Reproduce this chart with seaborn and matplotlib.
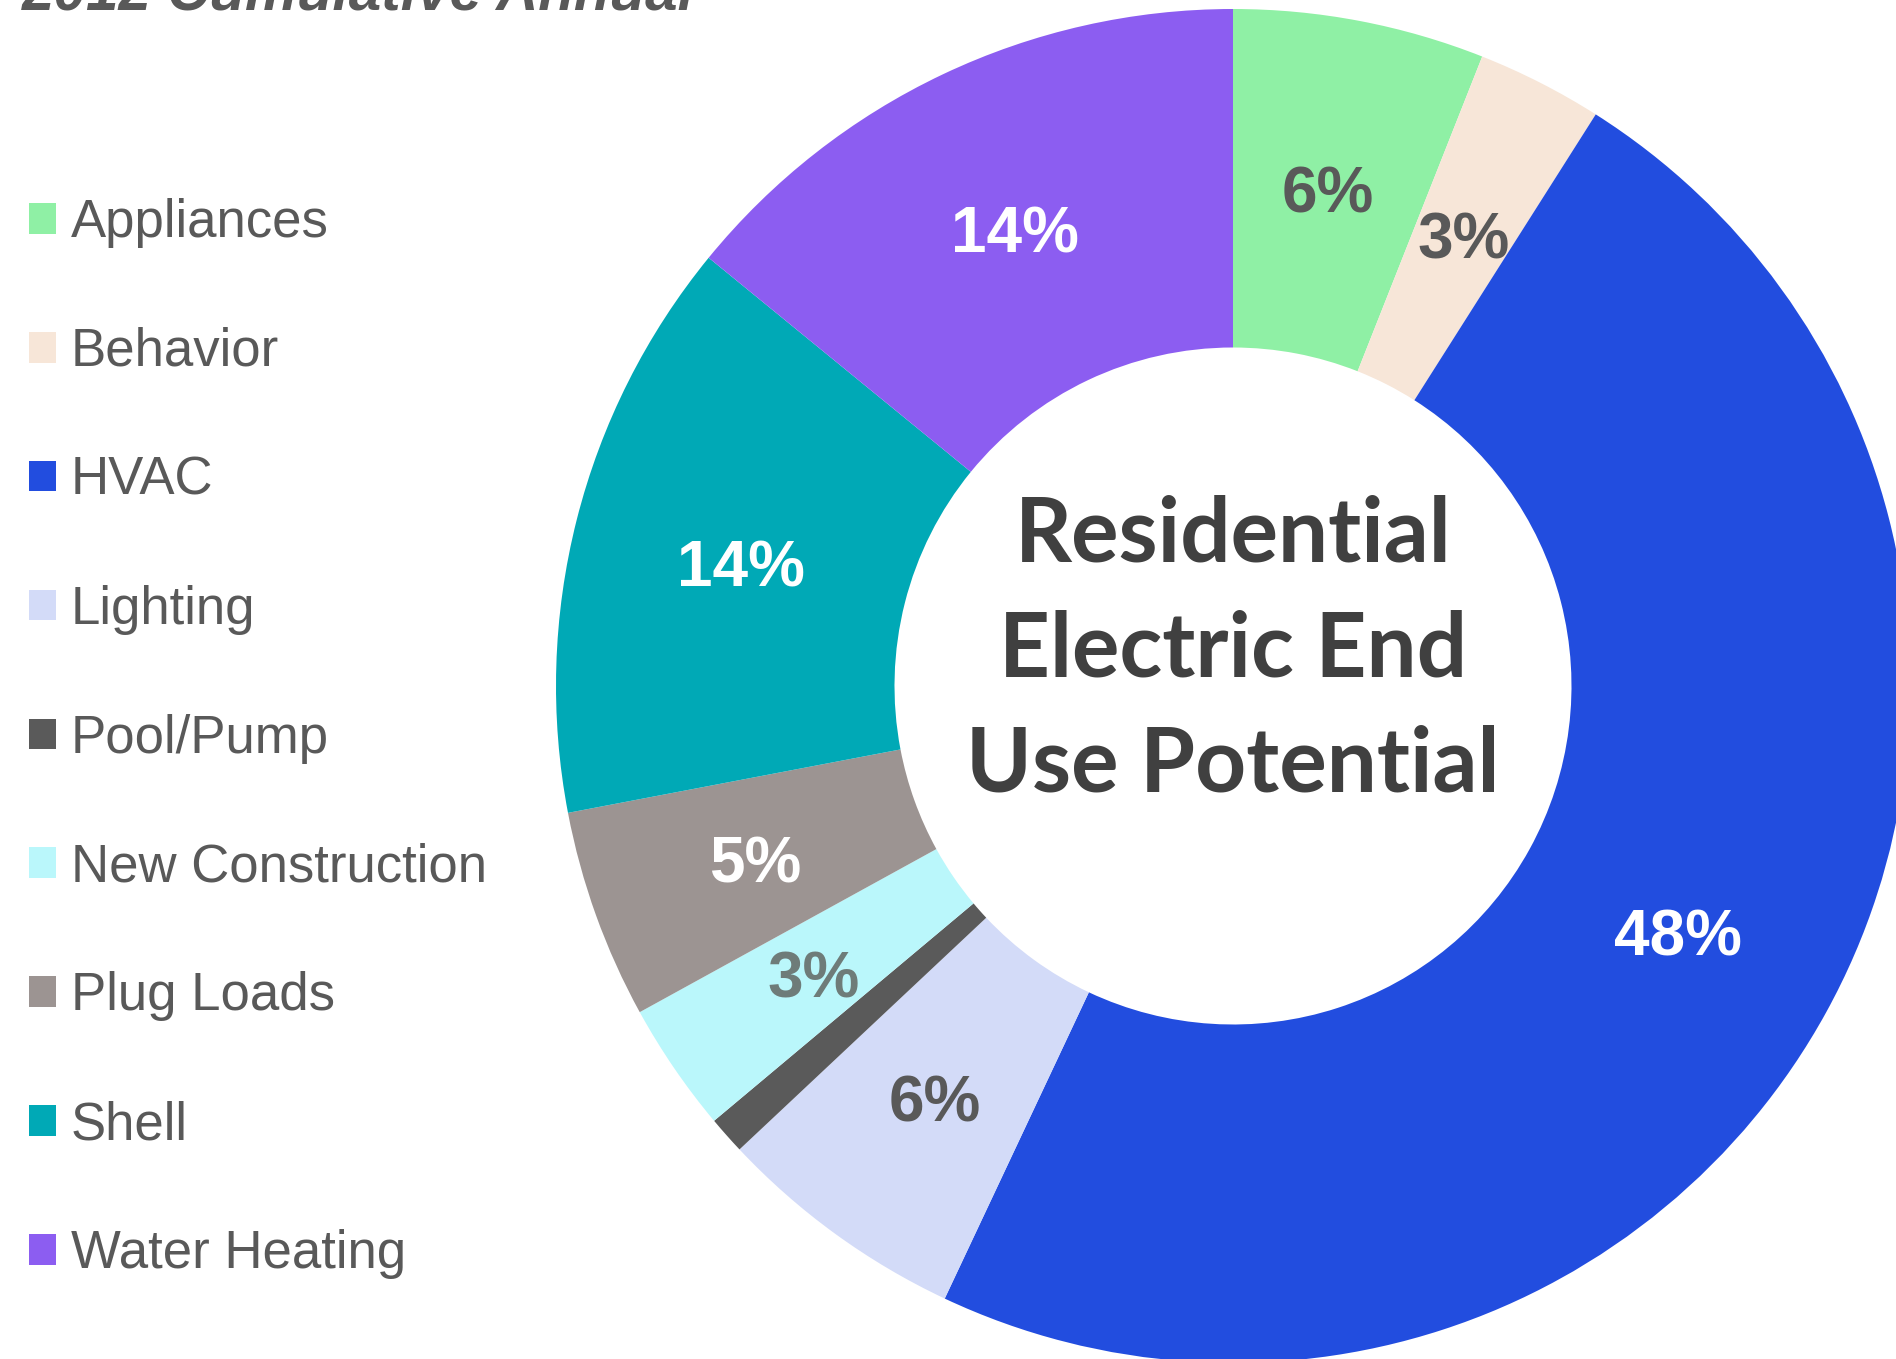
import matplotlib
matplotlib.use("Agg")
import matplotlib.pyplot as plt
import matplotlib.transforms as mtransforms
import seaborn as sns

# End-use categories and their share of cumulative annual savings potential (%)
categories = ["Appliances", "Behavior", "HVAC", "Lighting", "Pool/Pump",
              "New Construction", "Plug Loads", "Shell", "Water Heating"]
shares = [6.0, 3.0, 48.0, 6.0, 0.9, 3.1, 5.0, 13.9, 14.1]
colors = ["#8FF0A5", "#F7E6D8", "#224DDF", "#D3DBF8", "#5A5A5A",
          "#BAF7FB", "#9C9492", "#00A9B6", "#8C5DF1"]
label_colors = ["#595959", "#595959", "#FFFFFF", "#595959", "#595959",
                "#6E7C79", "#FFFFFF", "#FFFFFF", "#FFFFFF"]
center_lines = ["Residential", "Electric End", "Use Potential"]
title_text = "2012 Cumulative Annual"

sns.set_theme(style="white")
plt.rcParams["font.family"] = ["Liberation Sans", "DejaVu Sans"]

W, H = 1896, 1359
fig = plt.figure(figsize=(W / 100, H / 100), dpi=100)
fig.patch.set_facecolor("white")

# donut geometry in pixels
cx, cy, R = 1233, 686, 677
ax = fig.add_axes([(cx - R) / W, (H - cy - R) / H, 2 * R / W, 2 * R / H])


def pct_label(p):
    return "" if p < 2 else f"{round(p):d}%"


wedges, _, autotexts = ax.pie(
    shares,
    colors=colors,
    startangle=90,
    counterclock=False,
    radius=1.0,
    autopct=pct_label,
    pctdistance=0.75,
    wedgeprops=dict(width=0.5, edgecolor="none", linewidth=0),
    textprops=dict(fontsize=46, fontweight="bold"),
)
# nudge the percentage labels so their digits sit centred in the ring
shift = mtransforms.offset_copy(ax.transData, fig=fig, x=0, y=-8, units="dots")
for t, c in zip(autotexts, label_colors):
    t.set_color(c)
    t.set_transform(shift)
ax.set_xlim(-1, 1)
ax.set_ylim(-1, 1)
ax.set_aspect("equal")
ax.axis("off")

# centre caption, one line per baseline
for i, line in enumerate(center_lines):
    fig.text(cx / W, 1 - (562 + 115 * i) / H, line,
             ha="center", va="baseline", fontsize=64, fontweight="bold",
             color="#404040", family=["Lato", "DejaVu Sans"])

# heading cut at the top edge
fig.text(22 / W, 1 - 9 / H, title_text, ha="left", va="baseline",
         fontsize=42, fontweight="bold", fontstyle="italic", color="#595959")

leg = fig.legend(
    wedges, categories,
    loc="upper left", bbox_to_anchor=(29 / W, 1 - 198 / H),
    frameon=False, fontsize=38, labelcolor="#595959",
    handlelength=0.52, handleheight=0.52, handletextpad=0.27,
    labelspacing=1.495, borderpad=0, borderaxespad=0,
)

fig.savefig("out.png", dpi=100, facecolor="white")
